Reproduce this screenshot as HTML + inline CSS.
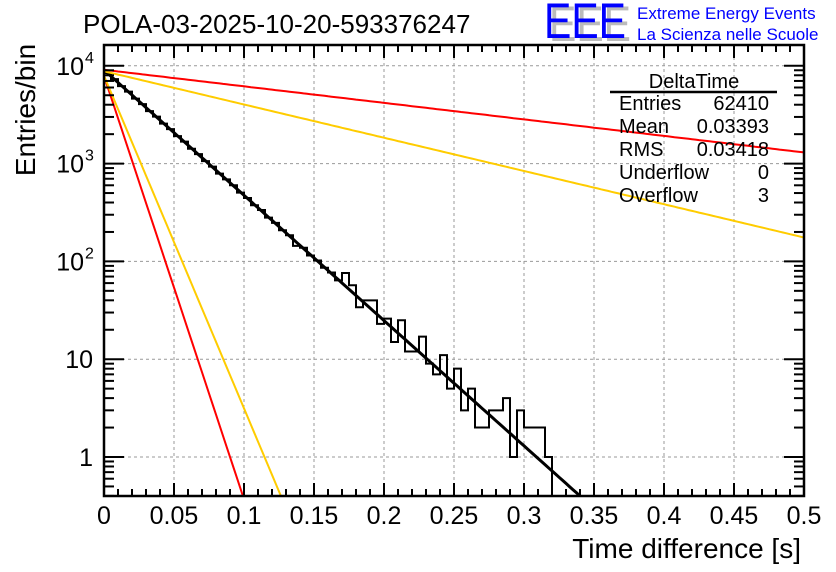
<!DOCTYPE html>
<html><head><meta charset="utf-8"><style>
html,body{margin:0;padding:0;background:#fff;overflow:hidden;width:836px;height:572px;}
svg{display:block;font-family:"Liberation Sans",sans-serif;}
</style></head><body>
<svg id="c" width="836" height="572" viewBox="0 0 836 572">
<rect width="836" height="572" fill="#fff"/>
<text x="83" y="33" font-size="26" fill="#000">POLA-03-2025-10-20-593376247</text>
<g>
<text x="549" y="41" font-size="50" fill="#bbb" textLength="82" lengthAdjust="spacingAndGlyphs">EEE</text>
<text x="544" y="38" font-size="50" fill="#0000ff" textLength="82" lengthAdjust="spacingAndGlyphs">EEE</text>
<text x="637" y="19" font-size="17" fill="#0000ff">Extreme Energy Events</text>
<text x="637" y="40" font-size="17" fill="#0000ff">La Scienza nelle Scuole</text>
</g>
<g id="grid"></g>
<g id="marks"></g>
<g id="axes"></g>
<text x="0" y="0" font-size="28" text-anchor="middle" transform="translate(35 110) rotate(-90)">Entries/bin</text>
<text x="801" y="558" font-size="28" text-anchor="end">Time difference [s]</text>
<g font-size="20">
<text x="694" y="88" text-anchor="middle">DeltaTime</text>
<line x1="610" y1="92" x2="777" y2="92" stroke="#000" stroke-width="2.5"/>
<text x="619" y="110">Entries</text><text x="769" y="110" text-anchor="end">62410</text>
<text x="619" y="133">Mean</text><text x="769" y="133" text-anchor="end">0.03393</text>
<text x="619" y="156">RMS</text><text x="769" y="156" text-anchor="end">0.03418</text>
<text x="619" y="179">Underflow</text><text x="769" y="179" text-anchor="end">0</text>
<text x="619" y="202">Overflow</text><text x="769" y="202" text-anchor="end">3</text>
</g>
</svg>
<script>
const binWidth = 0.005;
const histValues = [8410,7300,6200,5450,4620,4060,3440,3020,2560,2250,1910,1680,1420,1250,1060,930,790,690,600,505,445,375,335,280,248,208,185,144,138,115,102,86,77,64,76,57,34,40,40,23,26,15,25,12,12,17,9,7,11,5,8,3,5,2,2,3,3,4,1,3,2,2,2,1,0,0,0,0,0,0,0,0,0,0,0,0,0,0,0,0,0,0,0,0,0,0,0,0,0,0,0,0,0,0,0,0,0,0,0,0];
const fitAmp = [9060, 9100, 8800, 7900, 7900];
const fitSlope = [12.81, 1.69, 3.40, 43.3, 34.0]; // decades per unit x
const fitColor = ['#000','#ff0000','#ffcc00','#ff0000','#ffcc00'];
const fitName = ['fit-main','fit-upper-red','fit-upper-yellow','fit-steep-red','fit-steep-yellow'];
const xTicks = [0,0.05,0.1,0.15,0.2,0.25,0.3,0.35,0.4,0.45,0.5];
const xTickLabels = ['0','0.05','0.1','0.15','0.2','0.25','0.3','0.35','0.4','0.45','0.5'];
const yTicks = [1,10,100,1000,10000];
const yTickLabels = [['1',''],['10',''],['10','2'],['10','3'],['10','4']];

const L=104,R=804,T=45,B=496;
const X=v=>L+v*1400;
const Y=v=>457-Math.log10(v)*97.8;
const NS='http://www.w3.org/2000/svg';
function mk(tag,attrs,parent){const e=document.createElementNS(NS,tag);for(const k in attrs)e.setAttribute(k,attrs[k]);parent.appendChild(e);return e;}
const grid=document.getElementById('grid'),marks=document.getElementById('marks'),axes=document.getElementById('axes');
const defs=mk('defs',{},marks);const cp=mk('clipPath',{id:'pc'},defs);mk('rect',{x:L,y:T,width:R-L,height:B-T},cp);
xTicks.forEach((t,i)=>{if(i===0||i===xTicks.length-1)return;const g=mk('line',{x1:X(t),x2:X(t),y1:T,y2:B,stroke:'#999','stroke-dasharray':'3,3','stroke-width':1},grid);

});
yTicks.forEach(t=>{const g=mk('line',{x1:L,x2:R,y1:Y(t),y2:Y(t),stroke:'#999','stroke-dasharray':'3,3','stroke-width':1},grid);

});
let d='M'+X(0)+','+B;
histValues.forEach((v,i)=>{const y=v>0?Math.min(B,Y(v)):B;d+=' L'+X(i*binWidth)+','+y+' L'+X((i+1)*binWidth)+','+y;});
const h=mk('path',{d:d,fill:'none',stroke:'#000','stroke-width':2,'clip-path':'url(#pc)'},marks);


fitAmp.forEach((a,k)=>{let p='';for(let j=0;j<=200;j++){const x=j*0.0025;const v=a*Math.pow(10,-fitSlope[k]*x);p+=(j?' L':'M')+X(x).toFixed(1)+','+Y(v).toFixed(1);}
const f=mk('path',{d:p,fill:'none',stroke:fitColor[k],'stroke-width':k===0?3:2,'clip-path':'url(#pc)'},marks);

});
const fr=mk('rect',{x:L,y:T,width:R-L,height:B-T,fill:'none',stroke:'#000','stroke-width':2.5},axes);


for(let i=0;i<=50;i++){const x=X(i*0.01);const len=(i%5===0)?13:7;
mk('line',{x1:x,x2:x,y1:B,y2:B-len,stroke:'#000','stroke-width':2},axes);
mk('line',{x1:x,x2:x,y1:T,y2:T+len,stroke:'#000','stroke-width':2},axes);}
xTicks.forEach((t,i)=>{const tx=mk('text',{x:X(t),y:524,'font-size':25,'text-anchor':'middle'},axes);tx.textContent=xTickLabels[i];

});
for(let e=-1;e<=4;e++){for(let m=1;m<=9;m++){const v=m*Math.pow(10,e);if(v<0.4||v>16300)continue;const y=Y(v);const len=m===1?20:10;
mk('line',{x1:L,x2:L+len,y1:y,y2:y,stroke:'#000','stroke-width':2},axes);
mk('line',{x1:R,x2:R-len,y1:y,y2:y,stroke:'#000','stroke-width':2},axes);}}
yTicks.forEach((t,i)=>{const tx=mk('text',{x:yTickLabels[i][1]?84:93,y:Y(t)+9,'font-size':25,'text-anchor':'end'},axes);tx.textContent=yTickLabels[i][0];


if(yTickLabels[i][1]){const s=mk('text',{x:85,y:Y(t)-3,'font-size':16},axes);s.textContent=yTickLabels[i][1];

}});
</script>
</body></html>
